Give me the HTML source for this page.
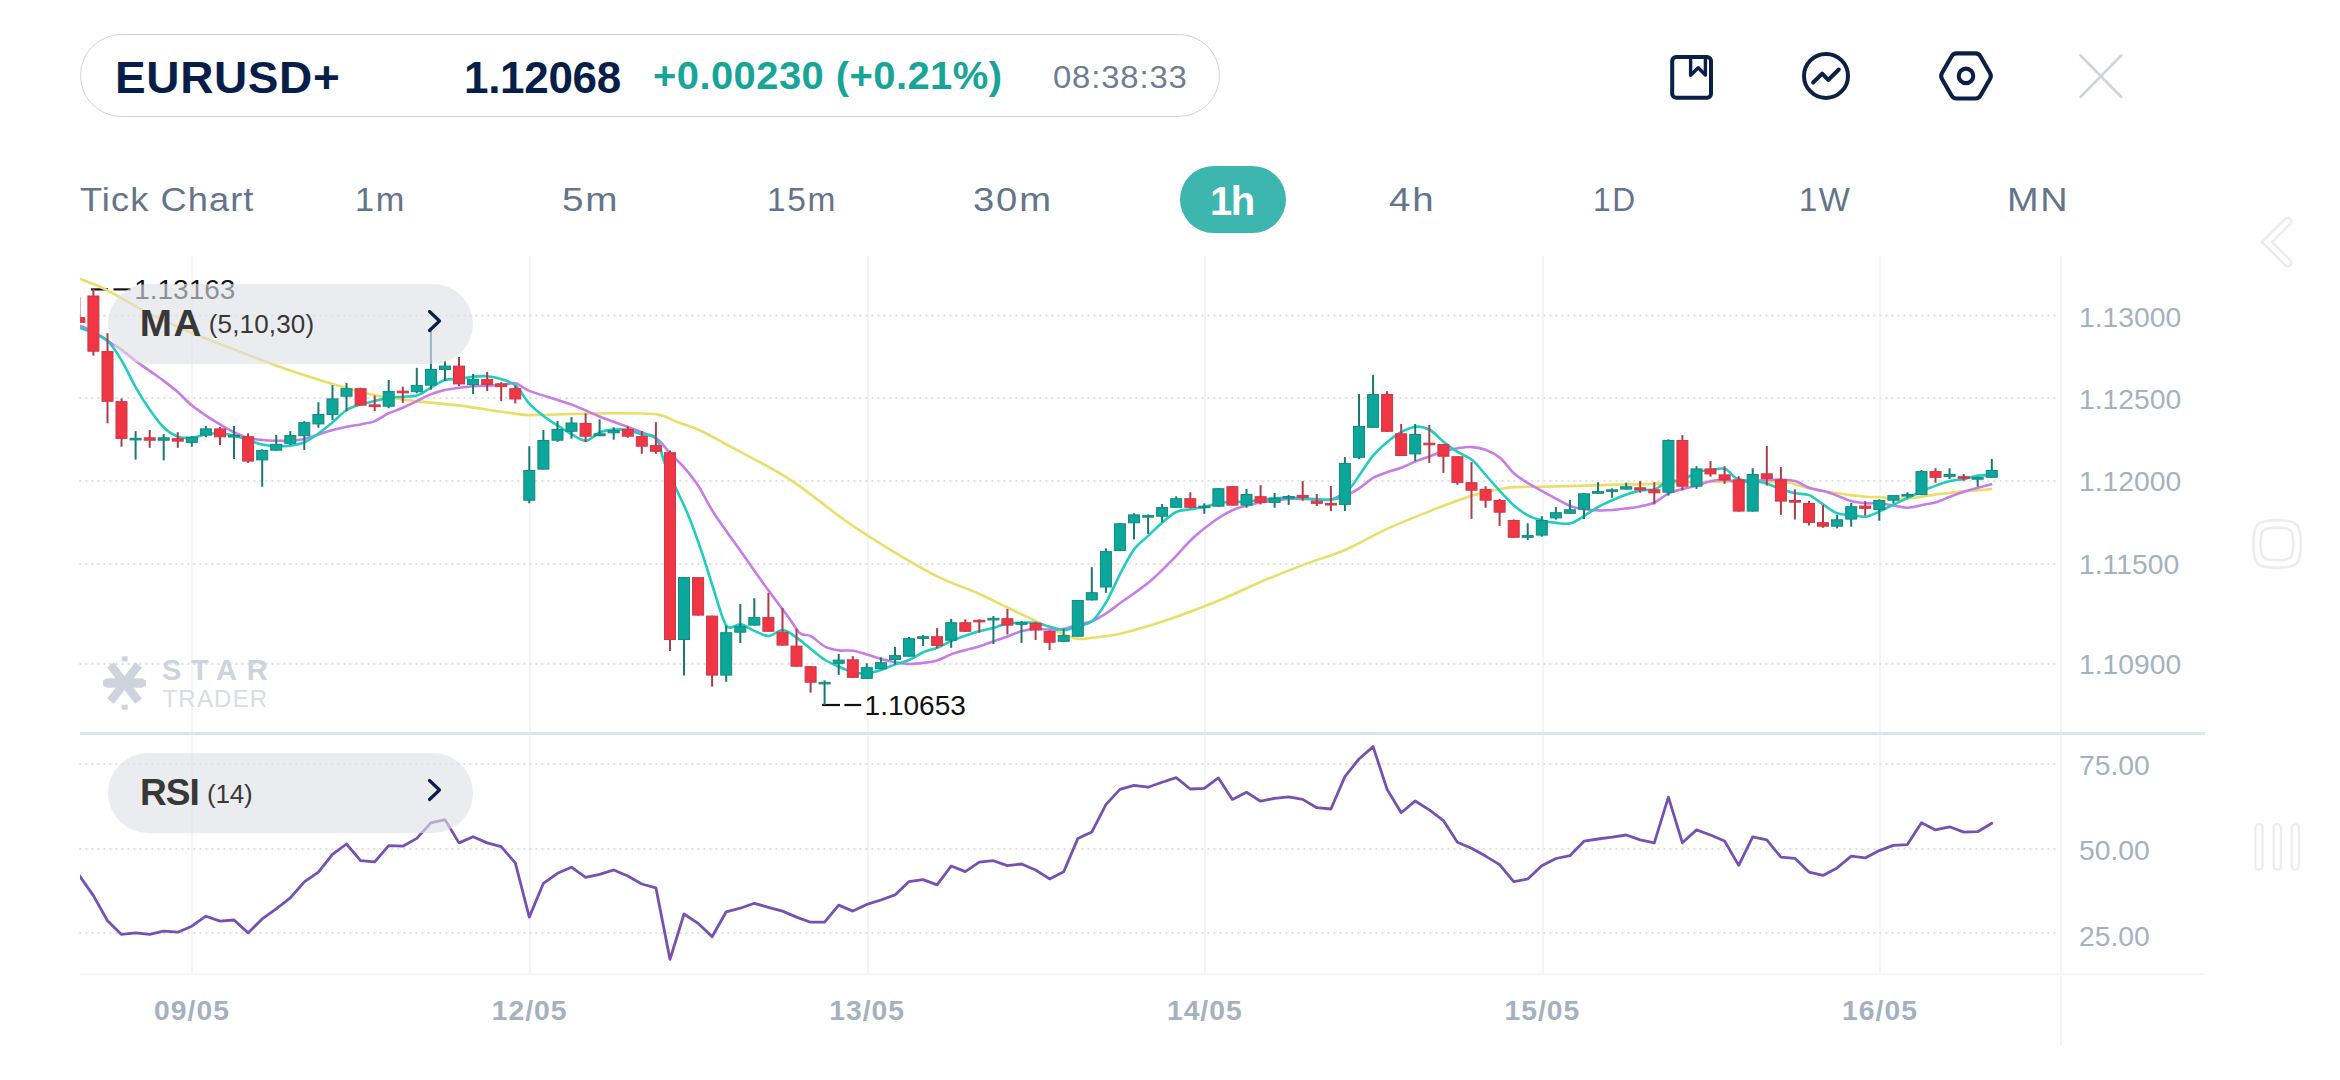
<!DOCTYPE html>
<html><head><meta charset="utf-8"><title>EURUSD+ chart</title>
<style>
html,body{margin:0;padding:0;background:#fff;}
body{width:2340px;height:1080px;position:relative;overflow:hidden;font-family:"Liberation Sans",sans-serif;}
.abs{position:absolute;white-space:nowrap;line-height:1;transform-origin:0 50%;}
#pill{position:absolute;left:80px;top:34px;width:1138px;height:81px;border:1px solid #cfd4da;border-radius:42px;}
.tf{position:absolute;top:182.5px;font-size:33.5px;color:#64748b;white-space:nowrap;line-height:1;letter-spacing:1.6px;transform-origin:0 50%;}
svg{position:absolute;left:0;top:0;}
</style></head><body>
<div id="pill"></div>
<div class="abs" style="left:115px;top:55.8px;font-size:44px;font-weight:700;color:#061e48;letter-spacing:0.6px;transform:scaleX(1.045);">EURUSD+</div>
<div class="abs" style="left:464px;top:55.8px;font-size:44px;font-weight:700;color:#061e48;letter-spacing:-0.3px;">1.12068</div>
<div class="abs" style="left:652.5px;top:56.8px;font-size:38px;font-weight:700;color:#17a598;letter-spacing:0.4px;transform:scaleX(1.052);">+0.00230 (+0.21%)</div>
<div class="abs" style="left:1052.5px;top:62.2px;font-size:31px;color:#6f7c91;letter-spacing:0.8px;transform:scaleX(1.06);">08:38:33</div>
<div class="tf" style="left:80px;letter-spacing:1px;transform:scaleX(1.081);">Tick Chart</div>
<div class="tf" style="left:355px;transform:scaleX(1.025);">1m</div>
<div class="tf" style="left:561.5px;transform:scaleX(1.155);">5m</div>
<div class="tf" style="left:767px;">15m</div>
<div class="tf" style="left:973px;transform:scaleX(1.14);">30m</div>
<div class="abs" style="left:1180px;top:166px;width:106px;height:67px;border-radius:34px;background:#3cb6ae;"></div>
<div class="abs" style="left:1210px;top:181px;font-size:40px;font-weight:700;color:#fff;letter-spacing:-1.5px;">1h</div>
<div class="tf" style="left:1389px;transform:scaleX(1.146);">4h</div>
<div class="tf" style="left:1592.5px;transform:scaleX(0.946);">1D</div>
<div class="tf" style="left:1798.5px;transform:scaleX(0.98);">1W</div>
<div class="tf" style="left:2007px;transform:scaleX(1.13);">MN</div>
<svg width="2340" height="1080" viewBox="0 0 2340 1080">
<defs><clipPath id="clipc"><rect x="80" y="256" width="1981" height="720"/></clipPath></defs>
<line x1="192" y1="256" x2="192" y2="974" stroke="#f5f5f7" stroke-width="2"/>
<line x1="530" y1="256" x2="530" y2="974" stroke="#f5f5f7" stroke-width="2"/>
<line x1="868" y1="256" x2="868" y2="974" stroke="#f5f5f7" stroke-width="2"/>
<line x1="1205" y1="256" x2="1205" y2="974" stroke="#f5f5f7" stroke-width="2"/>
<line x1="1543" y1="256" x2="1543" y2="974" stroke="#f5f5f7" stroke-width="2"/>
<line x1="1880" y1="256" x2="1880" y2="974" stroke="#f5f5f7" stroke-width="2"/>
<line x1="79.4" y1="315.7" x2="2058" y2="315.7" stroke="#dfdfe1" stroke-width="2.2" stroke-dasharray="2 4"/>
<line x1="79.4" y1="398" x2="2058" y2="398" stroke="#dfdfe1" stroke-width="2.2" stroke-dasharray="2 4"/>
<line x1="79.4" y1="481" x2="2058" y2="481" stroke="#dfdfe1" stroke-width="2.2" stroke-dasharray="2 4"/>
<line x1="79.4" y1="564" x2="2058" y2="564" stroke="#dfdfe1" stroke-width="2.2" stroke-dasharray="2 4"/>
<line x1="79.4" y1="663.8" x2="2058" y2="663.8" stroke="#dfdfe1" stroke-width="2.2" stroke-dasharray="2 4"/>
<line x1="79.4" y1="764" x2="2058" y2="764" stroke="#dfdfe1" stroke-width="2.2" stroke-dasharray="2 4"/>
<line x1="79.4" y1="849" x2="2058" y2="849" stroke="#dfdfe1" stroke-width="2.2" stroke-dasharray="2 4"/>
<line x1="79.4" y1="933" x2="2058" y2="933" stroke="#dfdfe1" stroke-width="2.2" stroke-dasharray="2 4"/>
<line x1="2061" y1="256" x2="2061" y2="1046" stroke="#f5f5f7" stroke-width="2"/>
<line x1="80" y1="974.3" x2="2205" y2="974.3" stroke="#f5f5f7" stroke-width="2"/>
<line x1="80" y1="733.6" x2="2205" y2="733.6" stroke="#dfe3ec" stroke-width="3"/>
<g id="wm" fill="#ced3dd"><polygon points="103,680.5 107,678.3 142,678.3 146,680.5 146,685.6 142,687.8 107,687.8 103,685.6" /><rect x="101.5" y="678.8" width="46" height="8.5" transform="rotate(52.3 124.5 683)" /><rect x="101.5" y="678.8" width="46" height="8.5" transform="rotate(-52.3 124.5 683)" /><rect x="121.7" y="656.3" width="6" height="5"/><rect x="121.7" y="704.7" width="6" height="5"/></g>
<text x="162" y="680" font-family="Liberation Sans, sans-serif" font-weight="700" font-size="29" letter-spacing="9.6" fill="#ced3dd">STAR</text>
<text x="162.5" y="707.2" font-family="Liberation Sans, sans-serif" font-size="24" letter-spacing="1.2" fill="#d9dce3">TRADER</text>
<g clip-path="url(#clipc)">
<g stroke="#111" stroke-width="2.2"><line x1="91" y1="289.4" x2="108" y2="289.4"/><line x1="113.5" y1="289.4" x2="130.6" y2="289.4"/><line x1="822" y1="705" x2="840" y2="705"/><line x1="844.4" y1="705" x2="861.2" y2="705"/></g>
<text x="134.2" y="298.9" font-family="Liberation Sans, sans-serif" font-size="28" fill="#111">1.13163</text>
<text x="864.6" y="715.1" font-family="Liberation Sans, sans-serif" font-size="28" fill="#111">1.10653</text>
<path d="M80,278.9C83.9,280.5 93.4,283.4 104.4,288.9C115.4,294.4 134.7,306.2 148.9,313.3C163.1,320.4 179.1,327.5 193.3,333.5C207.5,339.5 223.6,345.4 237.8,350.9C252,356.4 268,362.8 282.2,367.8C296.4,372.8 312.5,377.9 326.7,382.2C340.9,386.5 356.9,391.4 371.1,394.4C385.3,397.4 401.4,399.3 415.6,401.1C429.8,402.9 445.8,403.8 460,405.6C474.2,407.4 493.2,410.7 504.4,412.2C515.6,413.7 519.3,414.8 530,415.1C540.7,415.4 558,414.3 571,414C584,413.7 597.3,413.2 611,413.3C624.7,413.4 646,413 656.7,414.4C667.4,415.8 671,419.7 677.8,422.2C684.6,424.7 691.8,426.8 698.9,430C706,433.2 707.6,434.2 722,442C736.4,449.8 769.3,466.4 788.9,478.9C808.5,491.4 828.4,508.8 844.4,520C860.4,531.2 874,539.8 888.9,548.9C903.8,558 923.6,569.6 937.8,576.7C952,583.8 966.6,588.3 977.8,593.3C989,598.3 998.7,603.4 1008,607.8C1017.3,612.2 1027,616.8 1036,621.1C1045,625.4 1057.5,631.6 1064.2,634.4C1070.9,637.2 1073.5,638.4 1078,638.9C1082.5,639.4 1085.5,638.6 1092.2,637.8C1098.9,637 1107.6,636.8 1120,633.8C1132.4,630.8 1154,624.4 1170,619C1186,613.6 1205.6,605.9 1220,600C1234.4,594.1 1246.5,587.9 1260,582.2C1273.5,576.5 1290.8,569.6 1304.4,564.4C1318,559.2 1331.9,555.7 1345.1,550C1358.3,544.3 1373.5,535.1 1387.1,528.9C1400.7,522.7 1416.4,516.4 1430,511.1C1443.6,505.8 1461,499.2 1472.2,495.6C1483.4,492 1493.3,490.3 1500,488.9C1506.7,487.5 1507.2,487.5 1514,487.1C1520.8,486.7 1530.9,486.9 1542.2,486.7C1553.5,486.5 1571.2,486 1584.7,485.6C1598.2,485.2 1615.5,484.7 1626.7,484.4C1637.9,484.1 1647.4,484.1 1654.9,483.8C1662.4,483.5 1661.5,483 1673.3,482.7C1685.1,482.4 1711.1,481.9 1728.9,481.8C1746.7,481.7 1773.8,481.8 1784.4,482.2C1795,482.6 1791.1,483.4 1795.1,484.4C1799.1,485.4 1802.4,486.8 1809.1,488.2C1815.8,489.6 1828,491.9 1837.1,493.3C1846.2,494.7 1859.1,496.1 1866,496.7C1872.9,497.3 1875.5,496.7 1880,497.1C1884.5,497.5 1889.5,498.7 1894,498.9C1898.5,499.1 1903.5,498.8 1908,498.4C1912.5,498 1917.5,497.3 1922,496.7C1926.5,496.1 1931.5,495 1936,494.4C1940.5,493.8 1945.5,493.4 1950,492.9C1954.5,492.4 1959.5,491.5 1964,491.1C1968.5,490.7 1973.5,490.8 1978,490.4C1982.5,490 1989.9,489.1 1992.2,488.9" fill="none" stroke="#ebde68" stroke-width="2.6" stroke-linejoin="round"/>
<path d="M80,325.6C82.2,326.7 89.5,329.7 94,332.2C98.5,334.7 103.5,338.3 108,341.1C112.5,343.9 117.5,346.8 122,350C126.5,353.2 131.5,357.7 136,361.1C140.5,364.5 145.5,367.9 150,371.1C154.5,374.3 159.5,377.7 164,381.1C168.5,384.5 173.5,388.3 178,392.2C182.5,396.1 187.5,401.9 192,405.6C196.5,409.3 201.5,412.6 206,415.6C210.5,418.6 215.5,421.7 220,424.4C224.5,427.1 229.5,430.1 234,432.2C238.5,434.3 243.5,436.6 248,437.8C252.5,439 257.5,439.5 262,440C266.5,440.5 271.5,440.6 276,440.7C280.5,440.8 285.4,441 290,440.7C294.6,440.4 300.1,439.9 304.7,438.9C309.3,437.9 314.2,435.8 318.7,434.4C323.2,433 328.2,431.2 332.7,430C337.2,428.8 342.2,427.6 346.7,426.7C351.2,425.8 356.2,425.3 360.7,424.4C365.2,423.5 370.2,422.9 374.7,421.1C379.2,419.3 384.2,415.4 388.7,413.3C393.2,411.2 398.2,409.8 402.7,407.8C407.2,405.8 412.2,403.2 416.7,401.1C421.2,399 426.2,396.2 430.7,394.4C435.2,392.6 440.2,391.1 444.7,390C449.2,388.9 454.4,388.4 458.9,387.8C463.4,387.2 468.4,386.6 472.9,386.2C477.4,385.8 482.4,385.8 486.9,385.6C491.4,385.4 496.3,385.5 500.9,385.1C505.5,384.7 510.9,382.3 515.6,383.3C520.3,384.3 521.1,387.7 530,391.1C538.9,394.5 559.8,400.3 571,404.4C582.2,408.5 590.1,412.8 600,416.7C609.9,420.6 623.9,425.3 633,428.9C642.1,432.5 650.8,435 656.7,438.9C662.6,442.8 665.6,448.7 670,453.3C674.4,457.9 679.8,462.5 684.4,467.8C689,473.1 694.3,479.6 698.9,486.7C703.5,493.8 706.4,501.5 713.3,512.2C720.2,522.9 733.3,540.7 742.2,553.3C751.1,565.9 761.4,580.8 768.9,591.1C776.4,601.4 783.9,611 788.9,617.8C793.9,624.6 796.5,630.4 800,633.3C803.5,636.2 806.9,634.1 810.9,636.2C814.9,638.3 820.6,644.4 825.1,646.7C829.6,649 834.4,649.8 838.9,650.4C843.4,651 848.6,650.1 853.1,650.7C857.6,651.3 862.4,653.1 866.9,654.4C871.4,655.7 876.6,657.7 881.1,658.9C885.6,660.1 890.6,661.4 895.1,662.2C899.6,663 904.6,663.9 909.1,664C913.6,664.1 918.8,663.5 923.3,662.9C927.8,662.3 932.7,661.8 937.1,660.4C941.5,659 946.5,656.1 951.1,654.4C955.7,652.7 961.2,651.3 965.8,650C970.4,648.7 975.3,647.6 979.8,646.2C984.3,644.8 989.5,642.7 994,641.1C998.5,639.5 1003.5,637.8 1008,636.2C1012.5,634.6 1017.5,632.3 1022,631.1C1026.5,629.9 1031.5,629.1 1036,628.9C1040.5,628.7 1045.5,629.6 1050,629.6C1054.5,629.6 1059.7,629.7 1064.2,628.9C1068.7,628.1 1073.5,625.6 1078,624.4C1082.5,623.2 1087.7,622.9 1092.2,621.1C1096.7,619.3 1101.8,616.1 1106.2,613.3C1110.6,610.5 1113.2,608.3 1120,603.3C1126.8,598.3 1140.7,589 1148.9,582.2C1157.1,575.4 1164,568.2 1171.1,561.1C1178.2,554 1186.2,544.4 1193.3,537.8C1200.4,531.2 1209.3,524.4 1215.6,520C1221.9,515.6 1227.9,512.3 1232.9,510C1237.9,507.7 1242.6,506.8 1247.1,505.6C1251.6,504.4 1256.6,503 1261.1,502.2C1265.6,501.4 1270.6,501.2 1275.1,500.7C1279.6,500.2 1284.6,499.2 1289.1,498.9C1293.6,498.6 1298.6,498.8 1303.1,498.9C1307.6,499 1312.6,499.5 1317.1,499.6C1321.6,499.7 1326.6,500.2 1331.1,499.6C1335.6,499 1340.6,497.8 1345.1,496C1349.6,494.2 1354.6,491.3 1359.1,488.4C1363.6,485.5 1368.6,480.4 1373.1,477.8C1377.6,475.2 1382.6,473.8 1387.1,472.2C1391.6,470.6 1396.4,469.6 1401.1,467.8C1405.8,466 1411.6,463 1416.2,461.1C1420.8,459.2 1425.6,457.8 1430,456.2C1434.4,454.6 1439.5,452.4 1444,451.1C1448.5,449.8 1453.5,448.8 1458,448.2C1462.5,447.6 1467.7,446.8 1472.2,447.1C1476.7,447.4 1481.8,448.3 1486.2,450C1490.6,451.7 1495.6,454.1 1500,457.8C1504.4,461.5 1509.5,469.2 1514,473.3C1518.5,477.4 1523.7,480.5 1528.2,483.3C1532.7,486.1 1537.7,488.6 1542.2,491.1C1546.7,493.6 1551.8,496.5 1556.4,498.9C1561,501.3 1566.2,504.5 1570.7,506.2C1575.2,507.9 1580.2,508.6 1584.7,509.3C1589.2,510 1594.2,510.3 1598.7,510.4C1603.2,510.5 1608.2,510.3 1612.7,510C1617.2,509.7 1622.2,509 1626.7,508.4C1631.2,507.8 1636.4,507.2 1640.9,506.2C1645.4,505.2 1650.4,504.3 1654.9,502.2C1659.4,500.1 1664.4,495.4 1668.9,493.3C1673.4,491.2 1678.4,490.1 1682.9,488.9C1687.4,487.7 1692.6,486.8 1697.1,485.6C1701.6,484.4 1706.6,482 1711.1,481.1C1715.6,480.2 1720.6,479.8 1725.1,480C1729.6,480.2 1734.6,482 1739.1,482.2C1743.6,482.4 1748.7,481.5 1753.1,481.1C1757.5,480.7 1762.4,480.2 1766.9,480C1771.4,479.8 1776.6,479.4 1781.1,479.6C1785.6,479.8 1790.6,479.8 1795.1,481.1C1799.6,482.4 1804.6,486.2 1809.1,487.8C1813.6,489.4 1818.6,489.9 1823.1,491.1C1827.6,492.3 1832.6,494 1837.1,495.6C1841.6,497.2 1846.5,499.9 1851.1,501.1C1855.7,502.3 1861.4,502.9 1866,503.3C1870.6,503.7 1875.5,502.9 1880,503.3C1884.5,503.7 1889.5,504.9 1894,505.6C1898.5,506.3 1903.5,507.9 1908,507.8C1912.5,507.7 1917.5,506 1922,505.1C1926.5,504.2 1931.5,503.5 1936,502.2C1940.5,500.9 1945.5,498.4 1950,496.7C1954.5,495 1959.5,493.2 1964,491.8C1968.5,490.4 1973.5,489 1978,487.8C1982.5,486.6 1989.9,484.6 1992.2,484" fill="none" stroke="#c97ce8" stroke-width="2.6" stroke-linejoin="round"/>
<path d="M80,327.8C82.2,328.7 89.5,331.2 94,333.3C98.5,335.4 103.5,336.7 108,341.1C112.5,345.5 117.5,353.6 122,361.1C126.5,368.6 131.5,380 136,387.8C140.5,395.6 145.5,403.6 150,410C154.5,416.4 159.5,423.5 164,427.8C168.5,432.1 173.5,435.1 178,436.7C182.5,438.3 187.5,438.2 192,437.8C196.5,437.4 201.5,435.1 206,434.4C210.5,433.7 215.5,433.1 220,433.3C224.5,433.5 229.5,434.5 234,435.6C238.5,436.7 243.5,438.6 248,440C252.5,441.4 257.5,443.4 262,444.4C266.5,445.4 271.5,445.8 276,446C280.5,446.2 285.4,446.2 290,445.6C294.6,445 300.1,444.2 304.7,442.2C309.3,440.2 314.2,436.5 318.7,433.3C323.2,430.1 328.2,425.9 332.7,422.2C337.2,418.5 342.2,412.8 346.7,410C351.2,407.2 356.2,405.8 360.7,404.4C365.2,403 370.2,402.2 374.7,401.1C379.2,400 384.2,398.5 388.7,397.8C393.2,397.1 398.2,397.1 402.7,396.7C407.2,396.3 412.2,397 416.7,395.6C421.2,394.2 426.2,390.3 430.7,387.8C435.2,385.3 440.2,381.4 444.7,380C449.2,378.6 454.4,379.4 458.9,378.9C463.4,378.4 468.4,377.1 472.9,376.7C477.4,376.3 482.4,375.8 486.9,376.2C491.4,376.6 496.3,377.4 500.9,378.9C505.5,380.4 510.9,381.5 515.6,385.6C520.3,389.7 525.4,399.4 530,404.4C534.6,409.4 540,413.3 544.4,416.7C548.8,420.1 553.4,422.8 557.8,425.6C562.2,428.4 567.3,432 571.8,434.4C576.3,436.8 581.5,441.1 586,440.7C590.5,440.3 595.5,434 600,432.2C604.5,430.4 609.5,430 614,429.6C618.5,429.2 623.5,429.2 628,430C632.5,430.8 637.5,433.2 642,434.4C646.5,435.6 652.4,433.4 656,437.8C659.6,442.2 661.1,453.8 664.4,462.2C667.7,470.6 672.8,481.3 676.7,490C680.6,498.7 684.8,506.6 688.9,516.7C693,526.8 697.9,540.7 702.2,553.3C706.5,565.9 711.7,583.9 715.6,595.6C719.5,607.3 722.7,621.6 726.7,626.2C730.7,630.8 736.4,623.6 740.9,624.4C745.4,625.2 750.4,629.2 754.9,631.1C759.4,633 764.4,636.2 768.9,636C773.4,635.8 778.4,629.7 782.9,630C787.4,630.3 792.4,634.8 796.9,637.8C801.4,640.8 806.4,645.3 810.9,648.9C815.4,652.5 820.6,657.2 825.1,660C829.6,662.8 834.4,664.7 838.9,666.7C843.4,668.7 848.6,671.1 853.1,672.2C857.6,673.3 862.4,673.7 866.9,673.3C871.4,672.9 876.6,671.4 881.1,670C885.6,668.6 890.6,666 895.1,664.4C899.6,662.8 904.6,662 909.1,660C913.6,658 918.8,654.2 923.3,652.2C927.8,650.2 932.7,649.6 937.1,647.8C941.5,646 946.5,643.1 951.1,641.1C955.7,639.1 961.2,637.2 965.8,635.6C970.4,634 975.3,632.3 979.8,631.1C984.3,629.9 989.5,629 994,627.8C998.5,626.6 1003.5,624.1 1008,623.3C1012.5,622.5 1017.5,622.8 1022,622.7C1026.5,622.6 1031.5,622.3 1036,622.9C1040.5,623.5 1045.5,625.6 1050,626.7C1054.5,627.8 1059.7,630.1 1064.2,630C1068.7,629.9 1073.5,627.6 1078,626.2C1082.5,624.8 1087.7,624.9 1092.2,621.1C1096.7,617.3 1101.7,609.8 1106.2,602.2C1110.7,594.6 1115.9,581.8 1120.4,573.3C1124.9,564.8 1129.9,554.9 1134.4,548.9C1138.9,542.9 1143.9,539.9 1148.4,535.6C1152.9,531.3 1158.2,526 1162.7,522.2C1167.2,518.4 1172.2,513.9 1176.7,511.8C1181.2,509.7 1186.2,510.1 1190.7,509.3C1195.2,508.5 1200.4,507.7 1204.9,506.7C1209.4,505.7 1214.4,504.1 1218.9,503.3C1223.4,502.5 1228.4,502 1232.9,501.8C1237.4,501.6 1242.6,502.2 1247.1,501.8C1251.6,501.4 1256.6,500.2 1261.1,499.6C1265.6,499 1270.6,498.5 1275.1,498.2C1279.6,497.9 1284.6,497.8 1289.1,497.8C1293.6,497.8 1298.6,498 1303.1,498.2C1307.6,498.4 1312.6,499.1 1317.1,499.3C1321.6,499.5 1327.4,500.2 1331.1,499.6C1334.8,499 1336.8,497.7 1340,495.6C1343.2,493.5 1348,489.9 1351.1,486.7C1354.2,483.5 1355.6,480.6 1359.1,475.6C1362.6,470.6 1368.6,460.9 1373.1,455.6C1377.6,450.3 1382.6,445.9 1387.1,442.2C1391.6,438.5 1396.4,434.7 1401.1,432.2C1405.8,429.7 1411.6,427.1 1416.2,426.7C1420.8,426.3 1425.6,427.5 1430,430C1434.4,432.5 1439.5,438.6 1444,442.2C1448.5,445.8 1453.5,449.4 1458,452.2C1462.5,455 1467.7,456.3 1472.2,460C1476.7,463.7 1481.8,470.6 1486.2,475.6C1490.6,480.6 1495.6,486.3 1500,491.1C1504.4,495.9 1509.5,501.7 1514,505.6C1518.5,509.5 1523.7,513.2 1528.2,515.6C1532.7,518 1537.7,519.2 1542.2,520.4C1546.7,521.6 1551.8,522.4 1556.4,522.9C1561,523.4 1566.2,524.5 1570.7,523.3C1575.2,522.1 1580.2,518.3 1584.7,515.6C1589.2,512.9 1594.2,509.2 1598.7,506.7C1603.2,504.2 1608.2,502 1612.7,500C1617.2,498 1622.2,495.9 1626.7,494.4C1631.2,492.9 1636.4,491.2 1640.9,490.4C1645.4,489.6 1651.1,490.4 1654.9,489.3C1658.7,488.2 1661.5,484.6 1664.4,483.3C1667.3,482 1670.3,481.6 1673.3,481.1C1676.3,480.6 1679.1,481.4 1682.9,480C1686.7,478.6 1692.6,473.8 1697.1,472.2C1701.6,470.6 1706.6,470.5 1711.1,470C1715.6,469.5 1721.2,467.7 1725.1,468.9C1729,470.1 1731.8,475.8 1735.6,477.8C1739.4,479.8 1744.6,480.4 1748.9,481.1C1753.2,481.8 1757,481 1762.2,482.2C1767.4,483.4 1775.8,487.1 1781.1,488.9C1786.4,490.7 1790.6,492.3 1795.1,493.3C1799.6,494.3 1804.6,493.3 1809.1,495.1C1813.6,496.9 1818.6,501.5 1823.1,504.4C1827.6,507.3 1832.6,511.6 1837.1,513.3C1841.6,515 1846.5,514.6 1851.1,515.1C1855.7,515.6 1861.4,517.3 1866,516.7C1870.6,516.1 1875.5,513.1 1880,511.1C1884.5,509.1 1889.5,506.5 1894,504.4C1898.5,502.3 1903.5,499.9 1908,497.8C1912.5,495.7 1917.5,493.1 1922,491.1C1926.5,489.1 1931.5,487.2 1936,485.6C1940.5,484 1945.5,482.2 1950,481.1C1954.5,480 1959.5,479.8 1964,478.9C1968.5,478 1973.5,476.2 1978,475.6C1982.5,475 1989.9,475.2 1992.2,475.1" fill="none" stroke="#1fcec1" stroke-width="2.6" stroke-linejoin="round"/>
<line x1="79.4" y1="297.2" x2="79.4" y2="322.8" stroke="#ad3c4b" stroke-width="2"/>
<rect x="73.9" y="317.7" width="11" height="4.6" fill="#f03545" stroke="#c93a49" stroke-width="1"/>
<line x1="93.4" y1="289" x2="93.4" y2="355.6" stroke="#ad3c4b" stroke-width="2"/>
<rect x="87.9" y="296" width="11" height="55.2" fill="#f03545" stroke="#c93a49" stroke-width="1"/>
<line x1="107.5" y1="333.2" x2="107.5" y2="423.3" stroke="#ad3c4b" stroke-width="2"/>
<rect x="102" y="351.6" width="11" height="49.7" fill="#f03545" stroke="#c93a49" stroke-width="1"/>
<line x1="121.5" y1="398.4" x2="121.5" y2="446.7" stroke="#ad3c4b" stroke-width="2"/>
<rect x="116" y="401.6" width="11" height="36.8" fill="#f03545" stroke="#c93a49" stroke-width="1"/>
<line x1="135.6" y1="431.1" x2="135.6" y2="459.6" stroke="#19796f" stroke-width="2"/>
<rect x="130.1" y="438.3" width="11" height="1.6" fill="#0da69a" stroke="#14897f" stroke-width="1"/>
<line x1="149.7" y1="430" x2="149.7" y2="447.8" stroke="#ad3c4b" stroke-width="2"/>
<rect x="144.2" y="437.8" width="11" height="2.4" fill="#f03545" stroke="#c93a49" stroke-width="1"/>
<line x1="163.7" y1="434" x2="163.7" y2="460.4" stroke="#19796f" stroke-width="2"/>
<rect x="158.2" y="437.8" width="11" height="2.4" fill="#0da69a" stroke="#14897f" stroke-width="1"/>
<line x1="177.8" y1="432.2" x2="177.8" y2="447.8" stroke="#ad3c4b" stroke-width="2"/>
<rect x="172.3" y="438.7" width="11" height="2.4" fill="#f03545" stroke="#c93a49" stroke-width="1"/>
<line x1="191.8" y1="436.2" x2="191.8" y2="446.7" stroke="#19796f" stroke-width="2"/>
<rect x="186.3" y="437.2" width="11" height="5.2" fill="#0da69a" stroke="#14897f" stroke-width="1"/>
<line x1="205.9" y1="426" x2="205.9" y2="437.3" stroke="#19796f" stroke-width="2"/>
<rect x="200.4" y="428.9" width="11" height="6.2" fill="#0da69a" stroke="#14897f" stroke-width="1"/>
<line x1="220" y1="427.1" x2="220" y2="444.9" stroke="#ad3c4b" stroke-width="2"/>
<rect x="214.5" y="428.9" width="11" height="7.9" fill="#f03545" stroke="#c93a49" stroke-width="1"/>
<line x1="234" y1="426" x2="234" y2="458.9" stroke="#19796f" stroke-width="2"/>
<rect x="228.5" y="435.4" width="11" height="1.6" fill="#0da69a" stroke="#14897f" stroke-width="1"/>
<line x1="248.1" y1="433.3" x2="248.1" y2="462.9" stroke="#ad3c4b" stroke-width="2"/>
<rect x="242.6" y="436.7" width="11" height="24.4" fill="#f03545" stroke="#c93a49" stroke-width="1"/>
<line x1="262.2" y1="449.3" x2="262.2" y2="486.7" stroke="#19796f" stroke-width="2"/>
<rect x="256.7" y="450.5" width="11" height="9.4" fill="#0da69a" stroke="#14897f" stroke-width="1"/>
<line x1="276.2" y1="434.9" x2="276.2" y2="450.7" stroke="#19796f" stroke-width="2"/>
<rect x="270.7" y="444.3" width="11" height="5.9" fill="#0da69a" stroke="#14897f" stroke-width="1"/>
<line x1="290.3" y1="431.1" x2="290.3" y2="445" stroke="#19796f" stroke-width="2"/>
<rect x="284.8" y="435.6" width="11" height="7.7" fill="#0da69a" stroke="#14897f" stroke-width="1"/>
<line x1="304.3" y1="421.1" x2="304.3" y2="450" stroke="#19796f" stroke-width="2"/>
<rect x="298.8" y="422.7" width="11" height="13" fill="#0da69a" stroke="#14897f" stroke-width="1"/>
<line x1="318.4" y1="402.2" x2="318.4" y2="427.8" stroke="#19796f" stroke-width="2"/>
<rect x="312.9" y="414.5" width="11" height="9.4" fill="#0da69a" stroke="#14897f" stroke-width="1"/>
<line x1="332.5" y1="385.1" x2="332.5" y2="420" stroke="#19796f" stroke-width="2"/>
<rect x="327" y="398.9" width="11" height="15.5" fill="#0da69a" stroke="#14897f" stroke-width="1"/>
<line x1="346.5" y1="382.9" x2="346.5" y2="411.1" stroke="#19796f" stroke-width="2"/>
<rect x="341" y="388.7" width="11" height="7.5" fill="#0da69a" stroke="#14897f" stroke-width="1"/>
<line x1="360.6" y1="387.8" x2="360.6" y2="405.6" stroke="#ad3c4b" stroke-width="2"/>
<rect x="355.1" y="388.7" width="11" height="16.4" fill="#f03545" stroke="#c93a49" stroke-width="1"/>
<line x1="374.7" y1="395.6" x2="374.7" y2="411.1" stroke="#ad3c4b" stroke-width="2"/>
<rect x="369.2" y="404.9" width="11" height="1.7" fill="#f03545" stroke="#c93a49" stroke-width="1"/>
<line x1="388.7" y1="380" x2="388.7" y2="408.2" stroke="#19796f" stroke-width="2"/>
<rect x="383.2" y="391.6" width="11" height="14.6" fill="#0da69a" stroke="#14897f" stroke-width="1"/>
<line x1="402.8" y1="386.7" x2="402.8" y2="402.9" stroke="#ad3c4b" stroke-width="2"/>
<rect x="397.3" y="391.2" width="11" height="1.6" fill="#f03545" stroke="#c93a49" stroke-width="1"/>
<line x1="416.8" y1="367.8" x2="416.8" y2="393.3" stroke="#19796f" stroke-width="2"/>
<rect x="411.3" y="385.4" width="11" height="6.3" fill="#0da69a" stroke="#14897f" stroke-width="1"/>
<line x1="430.9" y1="331" x2="430.9" y2="389.6" stroke="#19796f" stroke-width="2"/>
<rect x="425.4" y="369.4" width="11" height="15.7" fill="#0da69a" stroke="#14897f" stroke-width="1"/>
<line x1="445" y1="361.1" x2="445" y2="381.1" stroke="#19796f" stroke-width="2"/>
<rect x="439.5" y="366.1" width="11" height="3.4" fill="#0da69a" stroke="#14897f" stroke-width="1"/>
<line x1="459" y1="357.1" x2="459" y2="386" stroke="#ad3c4b" stroke-width="2"/>
<rect x="453.5" y="366.1" width="11" height="17.8" fill="#f03545" stroke="#c93a49" stroke-width="1"/>
<line x1="473.1" y1="374" x2="473.1" y2="394" stroke="#19796f" stroke-width="2"/>
<rect x="467.6" y="379.4" width="11" height="5.2" fill="#0da69a" stroke="#14897f" stroke-width="1"/>
<line x1="487.2" y1="371.8" x2="487.2" y2="391.1" stroke="#ad3c4b" stroke-width="2"/>
<rect x="481.7" y="379.4" width="11" height="5" fill="#f03545" stroke="#c93a49" stroke-width="1"/>
<line x1="501.2" y1="382.2" x2="501.2" y2="401.1" stroke="#ad3c4b" stroke-width="2"/>
<rect x="495.7" y="383.8" width="11" height="2.8" fill="#f03545" stroke="#c93a49" stroke-width="1"/>
<line x1="515.3" y1="385.6" x2="515.3" y2="403.5" stroke="#ad3c4b" stroke-width="2"/>
<rect x="509.8" y="388.7" width="11" height="10.3" fill="#f03545" stroke="#c93a49" stroke-width="1"/>
<line x1="529.3" y1="446.2" x2="529.3" y2="503.3" stroke="#19796f" stroke-width="2"/>
<rect x="523.8" y="470.5" width="11" height="29.7" fill="#0da69a" stroke="#14897f" stroke-width="1"/>
<line x1="543.4" y1="430" x2="543.4" y2="469.6" stroke="#19796f" stroke-width="2"/>
<rect x="537.9" y="440.5" width="11" height="28.6" fill="#0da69a" stroke="#14897f" stroke-width="1"/>
<line x1="557.5" y1="421.1" x2="557.5" y2="441.8" stroke="#19796f" stroke-width="2"/>
<rect x="552" y="429.4" width="11" height="10.8" fill="#0da69a" stroke="#14897f" stroke-width="1"/>
<line x1="571.5" y1="417.1" x2="571.5" y2="438.6" stroke="#19796f" stroke-width="2"/>
<rect x="566" y="423" width="11" height="8.3" fill="#0da69a" stroke="#14897f" stroke-width="1"/>
<line x1="585.6" y1="413.3" x2="585.6" y2="442.2" stroke="#ad3c4b" stroke-width="2"/>
<rect x="580.1" y="423.4" width="11" height="12.8" fill="#f03545" stroke="#c93a49" stroke-width="1"/>
<line x1="599.6" y1="419.3" x2="599.6" y2="436.2" stroke="#19796f" stroke-width="2"/>
<rect x="594.1" y="433.8" width="11" height="1.9" fill="#0da69a" stroke="#14897f" stroke-width="1"/>
<line x1="613.7" y1="427.3" x2="613.7" y2="439.6" stroke="#19796f" stroke-width="2"/>
<rect x="608.2" y="430.5" width="11" height="2.3" fill="#0da69a" stroke="#14897f" stroke-width="1"/>
<line x1="627.8" y1="426.2" x2="627.8" y2="437.8" stroke="#ad3c4b" stroke-width="2"/>
<rect x="622.3" y="429.4" width="11" height="6.8" fill="#f03545" stroke="#c93a49" stroke-width="1"/>
<line x1="641.8" y1="431.1" x2="641.8" y2="453.8" stroke="#ad3c4b" stroke-width="2"/>
<rect x="636.3" y="436.5" width="11" height="9.7" fill="#f03545" stroke="#c93a49" stroke-width="1"/>
<line x1="655.9" y1="422.2" x2="655.9" y2="453.8" stroke="#ad3c4b" stroke-width="2"/>
<rect x="650.4" y="445.6" width="11" height="5.7" fill="#f03545" stroke="#c93a49" stroke-width="1"/>
<line x1="670" y1="450.4" x2="670" y2="651.1" stroke="#ad3c4b" stroke-width="2"/>
<rect x="664.5" y="452.7" width="11" height="186.8" fill="#f03545" stroke="#c93a49" stroke-width="1"/>
<line x1="684" y1="577.1" x2="684" y2="675.6" stroke="#19796f" stroke-width="2"/>
<rect x="678.5" y="577.6" width="11" height="61.9" fill="#0da69a" stroke="#14897f" stroke-width="1"/>
<line x1="698.1" y1="577.1" x2="698.1" y2="615.6" stroke="#ad3c4b" stroke-width="2"/>
<rect x="692.6" y="577.6" width="11" height="37.5" fill="#f03545" stroke="#c93a49" stroke-width="1"/>
<line x1="712.1" y1="615.6" x2="712.1" y2="686.7" stroke="#ad3c4b" stroke-width="2"/>
<rect x="706.6" y="616.1" width="11" height="59" fill="#f03545" stroke="#c93a49" stroke-width="1"/>
<line x1="726.2" y1="625.6" x2="726.2" y2="681.8" stroke="#19796f" stroke-width="2"/>
<rect x="720.7" y="632.7" width="11" height="42.4" fill="#0da69a" stroke="#14897f" stroke-width="1"/>
<line x1="740.3" y1="604" x2="740.3" y2="642.9" stroke="#19796f" stroke-width="2"/>
<rect x="734.8" y="626.7" width="11" height="5.5" fill="#0da69a" stroke="#14897f" stroke-width="1"/>
<line x1="754.3" y1="598.2" x2="754.3" y2="625.6" stroke="#19796f" stroke-width="2"/>
<rect x="748.8" y="617.6" width="11" height="7.5" fill="#0da69a" stroke="#14897f" stroke-width="1"/>
<line x1="768.4" y1="592.9" x2="768.4" y2="631.8" stroke="#ad3c4b" stroke-width="2"/>
<rect x="762.9" y="617.6" width="11" height="13.7" fill="#f03545" stroke="#c93a49" stroke-width="1"/>
<line x1="782.5" y1="608.2" x2="782.5" y2="645.6" stroke="#ad3c4b" stroke-width="2"/>
<rect x="777" y="632.3" width="11" height="12.8" fill="#f03545" stroke="#c93a49" stroke-width="1"/>
<line x1="796.5" y1="628.9" x2="796.5" y2="666.7" stroke="#ad3c4b" stroke-width="2"/>
<rect x="791" y="646.1" width="11" height="20.1" fill="#f03545" stroke="#c93a49" stroke-width="1"/>
<line x1="810.6" y1="666.2" x2="810.6" y2="692.7" stroke="#ad3c4b" stroke-width="2"/>
<rect x="805.1" y="666.7" width="11" height="15.5" fill="#f03545" stroke="#c93a49" stroke-width="1"/>
<line x1="824.6" y1="680.4" x2="824.6" y2="704.9" stroke="#19796f" stroke-width="2"/>
<rect x="819.1" y="682.3" width="11" height="1.6" fill="#0da69a" stroke="#14897f" stroke-width="1"/>
<line x1="838.7" y1="654" x2="838.7" y2="674.9" stroke="#19796f" stroke-width="2"/>
<rect x="833.2" y="660.1" width="11" height="3.2" fill="#0da69a" stroke="#14897f" stroke-width="1"/>
<line x1="852.8" y1="656.2" x2="852.8" y2="677.8" stroke="#ad3c4b" stroke-width="2"/>
<rect x="847.3" y="659.8" width="11" height="17.5" fill="#f03545" stroke="#c93a49" stroke-width="1"/>
<line x1="866.8" y1="663.3" x2="866.8" y2="678.9" stroke="#19796f" stroke-width="2"/>
<rect x="861.3" y="667.6" width="11" height="10.8" fill="#0da69a" stroke="#14897f" stroke-width="1"/>
<line x1="880.9" y1="657.3" x2="880.9" y2="669.3" stroke="#19796f" stroke-width="2"/>
<rect x="875.4" y="662.7" width="11" height="6.1" fill="#0da69a" stroke="#14897f" stroke-width="1"/>
<line x1="895" y1="647.1" x2="895" y2="664.4" stroke="#19796f" stroke-width="2"/>
<rect x="889.5" y="655.6" width="11" height="3.9" fill="#0da69a" stroke="#14897f" stroke-width="1"/>
<line x1="909" y1="637.1" x2="909" y2="656.7" stroke="#19796f" stroke-width="2"/>
<rect x="903.5" y="638.7" width="11" height="17.5" fill="#0da69a" stroke="#14897f" stroke-width="1"/>
<line x1="923.1" y1="635.1" x2="923.1" y2="646" stroke="#19796f" stroke-width="2"/>
<rect x="917.6" y="636.7" width="11" height="1.7" fill="#0da69a" stroke="#14897f" stroke-width="1"/>
<line x1="937.1" y1="628.2" x2="937.1" y2="648.4" stroke="#ad3c4b" stroke-width="2"/>
<rect x="931.6" y="636.7" width="11" height="8.8" fill="#f03545" stroke="#c93a49" stroke-width="1"/>
<line x1="951.2" y1="618.9" x2="951.2" y2="647.8" stroke="#19796f" stroke-width="2"/>
<rect x="945.7" y="622.7" width="11" height="17.5" fill="#0da69a" stroke="#14897f" stroke-width="1"/>
<line x1="965.3" y1="619.3" x2="965.3" y2="631.8" stroke="#ad3c4b" stroke-width="2"/>
<rect x="959.8" y="622.7" width="11" height="8.6" fill="#f03545" stroke="#c93a49" stroke-width="1"/>
<line x1="979.3" y1="619.3" x2="979.3" y2="632.7" stroke="#ad3c4b" stroke-width="2"/>
<rect x="973.8" y="620.3" width="11" height="1.6" fill="#f03545" stroke="#c93a49" stroke-width="1"/>
<line x1="993.4" y1="616" x2="993.4" y2="644" stroke="#19796f" stroke-width="2"/>
<rect x="987.9" y="618.3" width="11" height="1.6" fill="#0da69a" stroke="#14897f" stroke-width="1"/>
<line x1="1007.4" y1="608.9" x2="1007.4" y2="634.4" stroke="#ad3c4b" stroke-width="2"/>
<rect x="1001.9" y="618.7" width="11" height="6.4" fill="#f03545" stroke="#c93a49" stroke-width="1"/>
<line x1="1021.5" y1="621.1" x2="1021.5" y2="642.9" stroke="#19796f" stroke-width="2"/>
<rect x="1016" y="622.7" width="11" height="1.6" fill="#0da69a" stroke="#14897f" stroke-width="1"/>
<line x1="1035.6" y1="622.2" x2="1035.6" y2="640" stroke="#ad3c4b" stroke-width="2"/>
<rect x="1030.1" y="623.4" width="11" height="6.5" fill="#f03545" stroke="#c93a49" stroke-width="1"/>
<line x1="1049.6" y1="630.4" x2="1049.6" y2="650" stroke="#ad3c4b" stroke-width="2"/>
<rect x="1044.1" y="631.6" width="11" height="10.6" fill="#f03545" stroke="#c93a49" stroke-width="1"/>
<line x1="1063.7" y1="628.9" x2="1063.7" y2="641.8" stroke="#19796f" stroke-width="2"/>
<rect x="1058.2" y="635.6" width="11" height="5.7" fill="#0da69a" stroke="#14897f" stroke-width="1"/>
<line x1="1077.8" y1="600" x2="1077.8" y2="636.7" stroke="#19796f" stroke-width="2"/>
<rect x="1072.3" y="600.5" width="11" height="35.7" fill="#0da69a" stroke="#14897f" stroke-width="1"/>
<line x1="1091.8" y1="567.1" x2="1091.8" y2="600.4" stroke="#19796f" stroke-width="2"/>
<rect x="1086.3" y="592.7" width="11" height="7.2" fill="#0da69a" stroke="#14897f" stroke-width="1"/>
<line x1="1105.9" y1="548.3" x2="1105.9" y2="592.9" stroke="#19796f" stroke-width="2"/>
<rect x="1100.4" y="551.6" width="11" height="35.4" fill="#0da69a" stroke="#14897f" stroke-width="1"/>
<line x1="1119.9" y1="523.3" x2="1119.9" y2="551.1" stroke="#19796f" stroke-width="2"/>
<rect x="1114.4" y="523.8" width="11" height="26.8" fill="#0da69a" stroke="#14897f" stroke-width="1"/>
<line x1="1134" y1="513.3" x2="1134" y2="539.6" stroke="#19796f" stroke-width="2"/>
<rect x="1128.5" y="514.9" width="11" height="7.9" fill="#0da69a" stroke="#14897f" stroke-width="1"/>
<line x1="1148.1" y1="514.4" x2="1148.1" y2="533.8" stroke="#19796f" stroke-width="2"/>
<rect x="1142.6" y="515.6" width="11" height="1.6" fill="#0da69a" stroke="#14897f" stroke-width="1"/>
<line x1="1162.1" y1="504" x2="1162.1" y2="522.2" stroke="#19796f" stroke-width="2"/>
<rect x="1156.6" y="507.6" width="11" height="8.6" fill="#0da69a" stroke="#14897f" stroke-width="1"/>
<line x1="1176.2" y1="496.2" x2="1176.2" y2="507.8" stroke="#19796f" stroke-width="2"/>
<rect x="1170.7" y="498.7" width="11" height="8.6" fill="#0da69a" stroke="#14897f" stroke-width="1"/>
<line x1="1190.3" y1="492.2" x2="1190.3" y2="508.4" stroke="#ad3c4b" stroke-width="2"/>
<rect x="1184.8" y="498.7" width="11" height="8.6" fill="#f03545" stroke="#c93a49" stroke-width="1"/>
<line x1="1204.3" y1="503.3" x2="1204.3" y2="513.8" stroke="#19796f" stroke-width="2"/>
<rect x="1198.8" y="506.1" width="11" height="1.6" fill="#0da69a" stroke="#14897f" stroke-width="1"/>
<line x1="1218.4" y1="488.2" x2="1218.4" y2="506.7" stroke="#19796f" stroke-width="2"/>
<rect x="1212.9" y="488.7" width="11" height="17.5" fill="#0da69a" stroke="#14897f" stroke-width="1"/>
<line x1="1232.4" y1="486.2" x2="1232.4" y2="505.6" stroke="#ad3c4b" stroke-width="2"/>
<rect x="1226.9" y="486.7" width="11" height="18.4" fill="#f03545" stroke="#c93a49" stroke-width="1"/>
<line x1="1246.5" y1="488.9" x2="1246.5" y2="507.8" stroke="#19796f" stroke-width="2"/>
<rect x="1241" y="494.5" width="11" height="10.6" fill="#0da69a" stroke="#14897f" stroke-width="1"/>
<line x1="1260.6" y1="485.1" x2="1260.6" y2="504.4" stroke="#ad3c4b" stroke-width="2"/>
<rect x="1255.1" y="496.7" width="11" height="5.7" fill="#f03545" stroke="#c93a49" stroke-width="1"/>
<line x1="1274.6" y1="492.9" x2="1274.6" y2="507.8" stroke="#19796f" stroke-width="2"/>
<rect x="1269.1" y="498.3" width="11" height="4.1" fill="#0da69a" stroke="#14897f" stroke-width="1"/>
<line x1="1288.7" y1="494.9" x2="1288.7" y2="504.9" stroke="#19796f" stroke-width="2"/>
<rect x="1283.2" y="496.5" width="11" height="1.6" fill="#0da69a" stroke="#14897f" stroke-width="1"/>
<line x1="1302.7" y1="481.1" x2="1302.7" y2="500.7" stroke="#ad3c4b" stroke-width="2"/>
<rect x="1297.2" y="495.4" width="11" height="1.9" fill="#f03545" stroke="#c93a49" stroke-width="1"/>
<line x1="1316.8" y1="494" x2="1316.8" y2="506" stroke="#ad3c4b" stroke-width="2"/>
<rect x="1311.3" y="501.2" width="11" height="2.1" fill="#f03545" stroke="#c93a49" stroke-width="1"/>
<line x1="1330.9" y1="486" x2="1330.9" y2="511.1" stroke="#ad3c4b" stroke-width="2"/>
<rect x="1325.4" y="503.4" width="11" height="1.6" fill="#f03545" stroke="#c93a49" stroke-width="1"/>
<line x1="1344.9" y1="457.1" x2="1344.9" y2="511.1" stroke="#19796f" stroke-width="2"/>
<rect x="1339.4" y="463.4" width="11" height="41" fill="#0da69a" stroke="#14897f" stroke-width="1"/>
<line x1="1359" y1="394" x2="1359" y2="458.9" stroke="#19796f" stroke-width="2"/>
<rect x="1353.5" y="426.5" width="11" height="30.8" fill="#0da69a" stroke="#14897f" stroke-width="1"/>
<line x1="1373.1" y1="374.9" x2="1373.1" y2="427.8" stroke="#19796f" stroke-width="2"/>
<rect x="1367.6" y="394.5" width="11" height="32.8" fill="#0da69a" stroke="#14897f" stroke-width="1"/>
<line x1="1387.1" y1="391.1" x2="1387.1" y2="431.8" stroke="#ad3c4b" stroke-width="2"/>
<rect x="1381.6" y="394.5" width="11" height="36.8" fill="#f03545" stroke="#c93a49" stroke-width="1"/>
<line x1="1401.2" y1="424" x2="1401.2" y2="456" stroke="#ad3c4b" stroke-width="2"/>
<rect x="1395.7" y="433.8" width="11" height="21.7" fill="#f03545" stroke="#c93a49" stroke-width="1"/>
<line x1="1415.2" y1="424" x2="1415.2" y2="461.1" stroke="#19796f" stroke-width="2"/>
<rect x="1409.7" y="434.5" width="11" height="19.4" fill="#0da69a" stroke="#14897f" stroke-width="1"/>
<line x1="1429.3" y1="424.9" x2="1429.3" y2="462.9" stroke="#ad3c4b" stroke-width="2"/>
<rect x="1423.8" y="443.2" width="11" height="1.6" fill="#f03545" stroke="#c93a49" stroke-width="1"/>
<line x1="1443.4" y1="444" x2="1443.4" y2="472.9" stroke="#ad3c4b" stroke-width="2"/>
<rect x="1437.9" y="444.5" width="11" height="11.7" fill="#f03545" stroke="#c93a49" stroke-width="1"/>
<line x1="1457.4" y1="456.2" x2="1457.4" y2="484.9" stroke="#ad3c4b" stroke-width="2"/>
<rect x="1451.9" y="456.7" width="11" height="25.7" fill="#f03545" stroke="#c93a49" stroke-width="1"/>
<line x1="1471.5" y1="462.2" x2="1471.5" y2="518.9" stroke="#ad3c4b" stroke-width="2"/>
<rect x="1466" y="482.7" width="11" height="7.5" fill="#f03545" stroke="#c93a49" stroke-width="1"/>
<line x1="1485.6" y1="486.2" x2="1485.6" y2="507.8" stroke="#ad3c4b" stroke-width="2"/>
<rect x="1480.1" y="489.4" width="11" height="10.8" fill="#f03545" stroke="#c93a49" stroke-width="1"/>
<line x1="1499.6" y1="498.9" x2="1499.6" y2="526" stroke="#ad3c4b" stroke-width="2"/>
<rect x="1494.1" y="500.5" width="11" height="11.7" fill="#f03545" stroke="#c93a49" stroke-width="1"/>
<line x1="1513.7" y1="519.5" x2="1513.7" y2="537.8" stroke="#ad3c4b" stroke-width="2"/>
<rect x="1508.2" y="520.5" width="11" height="16.8" fill="#f03545" stroke="#c93a49" stroke-width="1"/>
<line x1="1527.7" y1="523.3" x2="1527.7" y2="540" stroke="#19796f" stroke-width="2"/>
<rect x="1522.2" y="535.6" width="11" height="1.7" fill="#0da69a" stroke="#14897f" stroke-width="1"/>
<line x1="1541.8" y1="516.2" x2="1541.8" y2="536.7" stroke="#19796f" stroke-width="2"/>
<rect x="1536.3" y="520.5" width="11" height="14.6" fill="#0da69a" stroke="#14897f" stroke-width="1"/>
<line x1="1555.9" y1="507.1" x2="1555.9" y2="519.6" stroke="#19796f" stroke-width="2"/>
<rect x="1550.4" y="512.7" width="11" height="5.2" fill="#0da69a" stroke="#14897f" stroke-width="1"/>
<line x1="1569.9" y1="500" x2="1569.9" y2="513.8" stroke="#19796f" stroke-width="2"/>
<rect x="1564.4" y="509.8" width="11" height="3.5" fill="#0da69a" stroke="#14897f" stroke-width="1"/>
<line x1="1584" y1="493.3" x2="1584" y2="518.9" stroke="#19796f" stroke-width="2"/>
<rect x="1578.5" y="493.8" width="11" height="15.3" fill="#0da69a" stroke="#14897f" stroke-width="1"/>
<line x1="1598" y1="482.2" x2="1598" y2="493.8" stroke="#19796f" stroke-width="2"/>
<rect x="1592.5" y="491.6" width="11" height="1.7" fill="#0da69a" stroke="#14897f" stroke-width="1"/>
<line x1="1612.1" y1="488.4" x2="1612.1" y2="497.8" stroke="#19796f" stroke-width="2"/>
<rect x="1606.6" y="489.8" width="11" height="1.6" fill="#0da69a" stroke="#14897f" stroke-width="1"/>
<line x1="1626.2" y1="482.7" x2="1626.2" y2="489.6" stroke="#19796f" stroke-width="2"/>
<rect x="1620.7" y="486.7" width="11" height="2.4" fill="#0da69a" stroke="#14897f" stroke-width="1"/>
<line x1="1640.2" y1="481.1" x2="1640.2" y2="492.7" stroke="#ad3c4b" stroke-width="2"/>
<rect x="1634.7" y="487.8" width="11" height="2.1" fill="#f03545" stroke="#c93a49" stroke-width="1"/>
<line x1="1654.3" y1="482.2" x2="1654.3" y2="504.4" stroke="#ad3c4b" stroke-width="2"/>
<rect x="1648.8" y="489.8" width="11" height="3" fill="#f03545" stroke="#c93a49" stroke-width="1"/>
<line x1="1668.4" y1="439.3" x2="1668.4" y2="495.6" stroke="#19796f" stroke-width="2"/>
<rect x="1662.9" y="440.5" width="11" height="51.7" fill="#0da69a" stroke="#14897f" stroke-width="1"/>
<line x1="1682.4" y1="435.1" x2="1682.4" y2="490.4" stroke="#ad3c4b" stroke-width="2"/>
<rect x="1676.9" y="440.5" width="11" height="45.7" fill="#f03545" stroke="#c93a49" stroke-width="1"/>
<line x1="1696.5" y1="466.2" x2="1696.5" y2="488.9" stroke="#19796f" stroke-width="2"/>
<rect x="1691" y="468.9" width="11" height="17.3" fill="#0da69a" stroke="#14897f" stroke-width="1"/>
<line x1="1710.5" y1="461.1" x2="1710.5" y2="476.7" stroke="#ad3c4b" stroke-width="2"/>
<rect x="1705" y="468.9" width="11" height="5" fill="#f03545" stroke="#c93a49" stroke-width="1"/>
<line x1="1724.6" y1="466.2" x2="1724.6" y2="483.8" stroke="#ad3c4b" stroke-width="2"/>
<rect x="1719.1" y="474.9" width="11" height="5" fill="#f03545" stroke="#c93a49" stroke-width="1"/>
<line x1="1738.7" y1="476.2" x2="1738.7" y2="511.6" stroke="#ad3c4b" stroke-width="2"/>
<rect x="1733.2" y="479.8" width="11" height="31.3" fill="#f03545" stroke="#c93a49" stroke-width="1"/>
<line x1="1752.7" y1="468.2" x2="1752.7" y2="511.6" stroke="#19796f" stroke-width="2"/>
<rect x="1747.2" y="474.5" width="11" height="36.6" fill="#0da69a" stroke="#14897f" stroke-width="1"/>
<line x1="1766.8" y1="446" x2="1766.8" y2="485.6" stroke="#ad3c4b" stroke-width="2"/>
<rect x="1761.3" y="473.8" width="11" height="4.6" fill="#f03545" stroke="#c93a49" stroke-width="1"/>
<line x1="1780.9" y1="467.1" x2="1780.9" y2="514.9" stroke="#ad3c4b" stroke-width="2"/>
<rect x="1775.4" y="479.8" width="11" height="21.3" fill="#f03545" stroke="#c93a49" stroke-width="1"/>
<line x1="1794.9" y1="489.3" x2="1794.9" y2="519.6" stroke="#ad3c4b" stroke-width="2"/>
<rect x="1789.4" y="500.5" width="11" height="1.7" fill="#f03545" stroke="#c93a49" stroke-width="1"/>
<line x1="1809" y1="501.1" x2="1809" y2="525.6" stroke="#ad3c4b" stroke-width="2"/>
<rect x="1803.5" y="503.4" width="11" height="19" fill="#f03545" stroke="#c93a49" stroke-width="1"/>
<line x1="1823" y1="505.1" x2="1823" y2="527.8" stroke="#ad3c4b" stroke-width="2"/>
<rect x="1817.5" y="522.7" width="11" height="3.5" fill="#f03545" stroke="#c93a49" stroke-width="1"/>
<line x1="1837.1" y1="514.9" x2="1837.1" y2="528.4" stroke="#19796f" stroke-width="2"/>
<rect x="1831.6" y="519.8" width="11" height="6.4" fill="#0da69a" stroke="#14897f" stroke-width="1"/>
<line x1="1851.2" y1="502.9" x2="1851.2" y2="526.7" stroke="#19796f" stroke-width="2"/>
<rect x="1845.7" y="506.7" width="11" height="12.4" fill="#0da69a" stroke="#14897f" stroke-width="1"/>
<line x1="1865.2" y1="501.1" x2="1865.2" y2="515.6" stroke="#ad3c4b" stroke-width="2"/>
<rect x="1859.7" y="506.1" width="11" height="2.3" fill="#f03545" stroke="#c93a49" stroke-width="1"/>
<line x1="1879.3" y1="499.3" x2="1879.3" y2="520.7" stroke="#19796f" stroke-width="2"/>
<rect x="1873.8" y="500.5" width="11" height="9" fill="#0da69a" stroke="#14897f" stroke-width="1"/>
<line x1="1893.4" y1="495.1" x2="1893.4" y2="503.3" stroke="#19796f" stroke-width="2"/>
<rect x="1887.9" y="495.6" width="11" height="4.6" fill="#0da69a" stroke="#14897f" stroke-width="1"/>
<line x1="1907.4" y1="492.2" x2="1907.4" y2="497.8" stroke="#19796f" stroke-width="2"/>
<rect x="1901.9" y="494.5" width="11" height="1.6" fill="#0da69a" stroke="#14897f" stroke-width="1"/>
<line x1="1921.5" y1="470" x2="1921.5" y2="495.1" stroke="#19796f" stroke-width="2"/>
<rect x="1916" y="471.6" width="11" height="23" fill="#0da69a" stroke="#14897f" stroke-width="1"/>
<line x1="1935.5" y1="468.2" x2="1935.5" y2="482.7" stroke="#ad3c4b" stroke-width="2"/>
<rect x="1930" y="471.6" width="11" height="5.7" fill="#f03545" stroke="#c93a49" stroke-width="1"/>
<line x1="1949.6" y1="468.2" x2="1949.6" y2="478.9" stroke="#19796f" stroke-width="2"/>
<rect x="1944.1" y="474.5" width="11" height="2.1" fill="#0da69a" stroke="#14897f" stroke-width="1"/>
<line x1="1963.7" y1="474" x2="1963.7" y2="480.7" stroke="#ad3c4b" stroke-width="2"/>
<rect x="1958.2" y="476.7" width="11" height="1.6" fill="#f03545" stroke="#c93a49" stroke-width="1"/>
<line x1="1977.7" y1="476.7" x2="1977.7" y2="486.7" stroke="#19796f" stroke-width="2"/>
<rect x="1972.2" y="477.6" width="11" height="1.6" fill="#0da69a" stroke="#14897f" stroke-width="1"/>
<line x1="1991.8" y1="458.9" x2="1991.8" y2="477.8" stroke="#19796f" stroke-width="2"/>
<rect x="1986.3" y="470.5" width="11" height="6.8" fill="#0da69a" stroke="#14897f" stroke-width="1"/>
<polyline points="79.4,875.6 93.4,895.6 107.5,920.7 121.5,934.4 135.6,932.9 149.7,934.4 163.7,931.1 177.8,932.2 191.8,926.2 205.9,916.2 220,921.1 234,920 248.1,932.9 262.2,918.9 276.2,908.9 290.3,897.8 304.3,881.8 318.4,872.2 332.5,854.4 346.5,844 360.6,860.7 374.7,861.8 388.7,845.6 402.8,846.2 416.8,838.4 430.9,822.9 445,819.6 459,842.9 473.1,836.7 487.2,842.9 501.2,846.7 515.3,862.9 529.3,917.1 543.4,883.3 557.5,873.3 571.5,867.2 585.6,877.3 599.6,874.4 613.7,870 627.8,876 641.8,884 655.9,887.8 670,959.3 684,914 698.1,923.3 712.1,936.7 726.2,911.8 740.3,908.2 754.3,903.3 768.4,907.3 782.5,911.1 796.5,917.1 810.6,922.2 824.6,922.2 838.7,905.1 852.8,911.1 866.8,904.4 880.9,900 895,894.9 909,881.6 923.1,879.6 937.1,884.9 951.2,866 965.3,871.6 979.3,862.2 993.4,860.7 1007.4,865.6 1021.5,864 1035.6,870 1049.6,878.9 1063.7,871.8 1077.8,838.6 1091.8,832.1 1105.9,804.6 1119.9,789.4 1134,785.4 1148.1,787.2 1162.1,782.3 1176.2,777.7 1190.3,789 1204.3,788.3 1218.4,777.9 1232.4,799.4 1246.5,792.3 1260.6,801.2 1274.6,798.3 1288.7,796.8 1302.7,799.4 1316.8,807.7 1330.9,809 1344.9,776.6 1359,759 1373.1,746.6 1387.1,789.4 1401.2,812.8 1415.2,801 1429.3,809.9 1443.4,820.6 1457.4,842.3 1471.5,848.3 1485.6,856.1 1499.6,864.6 1513.7,881.7 1527.7,879 1541.8,865.7 1555.9,858.5 1569.9,855.7 1584,841.2 1598,839 1612.1,837.2 1626.2,835 1640.2,839.9 1654.3,842.8 1668.4,797.2 1682.4,842.8 1696.5,829.9 1710.5,835 1724.6,841 1738.7,865.4 1752.7,836.8 1766.8,839.9 1780.9,857.2 1794.9,858.3 1809,872.1 1823,875.4 1837.1,867.9 1851.2,856.1 1865.2,857.9 1879.3,850.6 1893.4,845.4 1907.4,844.6 1921.5,822.8 1935.5,829.9 1949.6,826.8 1963.7,832.1 1977.7,831.7 1991.8,823.2" fill="none" stroke="#7651b2" stroke-width="2.8" stroke-linejoin="round" stroke-linecap="round"/>
</g>
<text x="2079" y="326.5" font-family="Liberation Sans, sans-serif" font-size="28.3" fill="#a6b1c0">1.13000</text>
<text x="2079" y="409" font-family="Liberation Sans, sans-serif" font-size="28.3" fill="#a6b1c0">1.12500</text>
<text x="2079" y="491" font-family="Liberation Sans, sans-serif" font-size="28.3" fill="#a6b1c0">1.12000</text>
<text x="2079" y="573.6" font-family="Liberation Sans, sans-serif" font-size="28.3" fill="#a6b1c0">1.11500</text>
<text x="2079" y="673.6" font-family="Liberation Sans, sans-serif" font-size="28.3" fill="#a6b1c0">1.10900</text>
<text x="2079" y="775.4" font-family="Liberation Sans, sans-serif" font-size="28.3" fill="#a6b1c0">75.00</text>
<text x="2079" y="860.2" font-family="Liberation Sans, sans-serif" font-size="28.3" fill="#a6b1c0">50.00</text>
<text x="2079" y="945.7" font-family="Liberation Sans, sans-serif" font-size="28.3" fill="#a6b1c0">25.00</text>
<text x="192" y="1019.8" text-anchor="middle" font-family="Liberation Sans, sans-serif" font-weight="700" font-size="28.3" letter-spacing="1" fill="#a6b1c0">09/05</text>
<text x="529.6" y="1019.8" text-anchor="middle" font-family="Liberation Sans, sans-serif" font-weight="700" font-size="28.3" letter-spacing="1" fill="#a6b1c0">12/05</text>
<text x="867.2" y="1019.8" text-anchor="middle" font-family="Liberation Sans, sans-serif" font-weight="700" font-size="28.3" letter-spacing="1" fill="#a6b1c0">13/05</text>
<text x="1204.8" y="1019.8" text-anchor="middle" font-family="Liberation Sans, sans-serif" font-weight="700" font-size="28.3" letter-spacing="1" fill="#a6b1c0">14/05</text>
<text x="1542.4" y="1019.8" text-anchor="middle" font-family="Liberation Sans, sans-serif" font-weight="700" font-size="28.3" letter-spacing="1" fill="#a6b1c0">15/05</text>
<text x="1880" y="1019.8" text-anchor="middle" font-family="Liberation Sans, sans-serif" font-weight="700" font-size="28.3" letter-spacing="1" fill="#a6b1c0">16/05</text>
<rect x="108" y="284" width="365" height="80" rx="40" fill="#dfe1e5" fill-opacity="0.62"/>
<rect x="108" y="753" width="365" height="80" rx="40" fill="#dfe1e5" fill-opacity="0.62"/>
<text transform="translate(139.8 335.6) scale(1.06 1)" font-family="Liberation Sans, sans-serif" font-weight="700" font-size="36.5" letter-spacing="1.5" fill="#383838">MA</text>
<text x="208.8" y="333.2" font-family="Liberation Sans, sans-serif" font-size="26" letter-spacing="0.15" fill="#383838">(5,10,30)</text>
<text transform="translate(140 805.1) scale(1.03 1)" font-family="Liberation Sans, sans-serif" font-weight="700" font-size="36" letter-spacing="-1" fill="#383838">RSI</text>
<text x="207" y="802.6" font-family="Liberation Sans, sans-serif" font-size="26" letter-spacing="-0.2" fill="#383838">(14)</text>
<g fill="none" stroke="#0b1f47" stroke-width="3.2" stroke-linecap="round" stroke-linejoin="round"><polyline points="429.5,311.5 439.5,321 429.5,330.5"/><polyline points="429.5,780.5 439.5,790 429.5,799.5"/></g>
<g fill="none" stroke="#0b1f47" stroke-linecap="round" stroke-linejoin="round"><rect x="1672.2" y="56.9" width="38.8" height="40.8" rx="4" stroke-width="4"/><polyline points="1690.6,58 1690.6,75.3 1698.2,67.8 1705.4,75 1705.4,58" stroke-width="3.4"/><circle cx="1826" cy="75.9" r="22" stroke-width="4"/><polyline points="1813.1,82.5 1822.2,73.6 1828.2,80 1838.8,69.5" stroke-width="4"/><path d="M1956.6,53.4 L1975.4,53.4 Q1978.8,53.4 1980.5,56.4 L1990,72.9 Q1991.7,75.9 1990,78.9 L1980.5,95.5 Q1978.8,98.5 1975.4,98.5 L1956.6,98.5 Q1953.2,98.5 1951.5,95.5 L1942,78.9 Q1940.3,75.9 1942,72.9 L1951.5,56.4 Q1953.2,53.4 1956.6,53.4 Z" stroke-width="4.1"/><circle cx="1966" cy="75.9" r="7.25" stroke-width="4.1"/></g>
<g stroke="#cfd4db" stroke-width="2.7" stroke-linecap="round"><line x1="2080.6" y1="55.5" x2="2121.2" y2="96.9"/><line x1="2121.2" y1="55.5" x2="2080.6" y2="96.9"/></g>
<g fill="none" stroke-linecap="round"><polyline points="2287.7,221.4 2266.9,242 2287.7,262.6" stroke="#ececec" stroke-width="9.6" stroke-linejoin="miter"/><polyline points="2287.7,221.4 2266.9,242 2287.7,262.6" stroke="#fff" stroke-width="4.6" stroke-linejoin="miter"/><path d="M2277.1,520.3 C2297.5,520.3 2300.7999999999997,523.6 2300.7999999999997,544 C2300.7999999999997,564.4 2297.5,567.7 2277.1,567.7 C2256.7,567.7 2253.4,564.4 2253.4,544 C2253.4,523.6 2256.7,520.3 2277.1,520.3Z" stroke="#ececec" stroke-width="2.6"/><path d="M2276.9,527.5 C2291.0,527.5 2293.3,529.8 2293.3,543.9 C2293.3,558.0 2291.0,560.3 2276.9,560.3 C2262.8,560.3 2260.5,558.0 2260.5,543.9 C2260.5,529.8 2262.8,527.5 2276.9,527.5Z" stroke="#ececec" stroke-width="2.6"/></g>
<rect x="2255.4" y="824.2" width="7.2" height="45.5" rx="3.6" fill="none" stroke="#ececec" stroke-width="2.2"/>
<rect x="2273.7000000000003" y="824.2" width="7.2" height="45.5" rx="3.6" fill="none" stroke="#ececec" stroke-width="2.2"/>
<rect x="2291.7000000000003" y="824.2" width="7.2" height="45.5" rx="3.6" fill="none" stroke="#ececec" stroke-width="2.2"/>
</svg>
</body></html>
